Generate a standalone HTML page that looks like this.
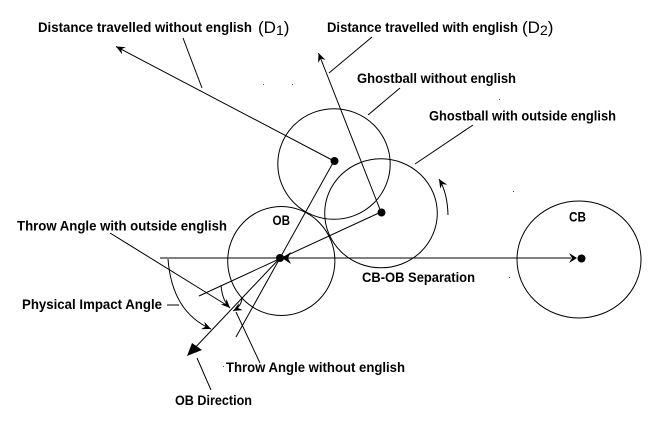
<!DOCTYPE html>
<html>
<head>
<meta charset="utf-8">
<style>
  html,body{margin:0;padding:0;background:#fff;}
  body{width:672px;height:424px;overflow:hidden;}
  svg{display:block;}
  text{font-family:"Liberation Sans",Arial,sans-serif;font-weight:bold;font-size:14px;fill:#000;}
  .r{font-weight:normal;font-size:17px;}
  .s{font-weight:normal;font-size:14px;}
</style>
</head>
<body>
<svg width="672" height="424" viewBox="0 0 672 424" xmlns="http://www.w3.org/2000/svg">
  <defs>
    <marker id="a" markerWidth="10" markerHeight="8" refX="9" refY="4" orient="auto" markerUnits="userSpaceOnUse">
      <path d="M0,0 L9,4 L0,8 L3,4 z" fill="#000"/>
    </marker>
  </defs>
  <rect width="672" height="424" fill="#fff"/>

  <g fill="none" stroke="#000" stroke-width="1">
    <!-- circles -->
    <ellipse cx="281.3" cy="261" rx="53.6" ry="54.5"/>
    <ellipse cx="334" cy="164" rx="56.2" ry="55.3"/>
    <ellipse cx="381" cy="213.3" rx="56.3" ry="54.5"/>
    <ellipse cx="579" cy="259.5" rx="62" ry="58.5"/>

    <!-- horizontal CB-OB line -->
    <line x1="160" y1="258" x2="571" y2="258"/>

    <!-- lines through OB -->
    <line x1="381" y1="212" x2="199" y2="296"/>
    <line x1="334" y1="161" x2="236" y2="337"/>
    <line x1="280" y1="258" x2="191" y2="352"/>

    <!-- distance arrows -->
    <line x1="334" y1="161" x2="116" y2="46.5" marker-end="url(#a)"/>
    <line x1="381" y1="212" x2="318.5" y2="53" marker-end="url(#a)"/>

    <!-- label pointers -->
    <line x1="183" y1="38" x2="202" y2="88"/>
    <line x1="372" y1="37" x2="329" y2="73"/>
    <line x1="400" y1="88" x2="368" y2="115"/>
    <line x1="473" y1="125" x2="415" y2="164"/>
    <line x1="110" y1="233" x2="228" y2="306"/>
    <line x1="167" y1="305" x2="179" y2="305"/>
    <line x1="197" y1="358" x2="211" y2="390"/>
    <line x1="236" y1="312" x2="260" y2="363"/>

    <!-- angle arcs -->
    <path d="M168,259 Q172,312 211,329" marker-end="url(#a)"/>
    <path d="M221,285 Q222,300 230,308" marker-end="url(#a)"/>
    <path d="M242,297 Q242,306 233,311" marker-end="url(#a)"/>

    <!-- rotation arc -->
    <path d="M448,215 Q447.5,193 439,179" marker-end="url(#a)"/>
  </g>

  <!-- arrowheads -->
  <polygon points="187,356 192,343 202,350" fill="#000"/>
  <polygon points="282,258 291,252 288,258 291,264" fill="#000"/>
  <polygon points="577,258 569,253 572,258 569,263" fill="#000"/>

  <!-- dots -->
  <circle cx="280" cy="258" r="4" fill="#000"/>
  <circle cx="334.5" cy="161" r="4" fill="#000"/>
  <circle cx="381.5" cy="212.5" r="4" fill="#000"/>
  <circle cx="581.5" cy="258.5" r="4" fill="#000"/>

  <!-- specks -->
  <g fill="#555">
    <rect x="263" y="84" width="1" height="1"/>
    <rect x="292" y="84" width="1" height="1"/>
    <rect x="499" y="99" width="1" height="1"/>
    <rect x="513" y="191" width="1" height="1"/>
    <rect x="509" y="277" width="1" height="1"/>
    <rect x="223" y="366" width="1" height="1"/>
  </g>

  <!-- labels -->
  <text x="38" y="32" textLength="214" lengthAdjust="spacingAndGlyphs">Distance travelled without english</text>
  <text class="r" x="258" y="33">(D<tspan class="s" dy="2">1</tspan><tspan dy="-2">)</tspan></text>

  <text x="327" y="32" textLength="191" lengthAdjust="spacingAndGlyphs">Distance travelled with english</text>
  <text class="r" x="522" y="33">(D<tspan class="s" dy="2">2</tspan><tspan dy="-2">)</tspan></text>

  <text x="357" y="83" textLength="159" lengthAdjust="spacingAndGlyphs">Ghostball without english</text>
  <text x="429" y="120.5" textLength="187" lengthAdjust="spacingAndGlyphs">Ghostball with outside english</text>

  <text x="272.5" y="225" textLength="17.5" lengthAdjust="spacingAndGlyphs">OB</text>
  <text x="569" y="221.5" textLength="17" lengthAdjust="spacingAndGlyphs">CB</text>

  <text x="17" y="230.5" textLength="210" lengthAdjust="spacingAndGlyphs">Throw Angle with outside english</text>
  <text x="22" y="309" textLength="140" lengthAdjust="spacingAndGlyphs">Physical Impact Angle</text>
  <text x="362" y="282" textLength="113" lengthAdjust="spacingAndGlyphs">CB-OB Separation</text>
  <text x="226" y="372" textLength="179" lengthAdjust="spacingAndGlyphs">Throw Angle without english</text>
  <text x="175" y="405" textLength="77" lengthAdjust="spacingAndGlyphs">OB Direction</text>
</svg>
</body>
</html>
